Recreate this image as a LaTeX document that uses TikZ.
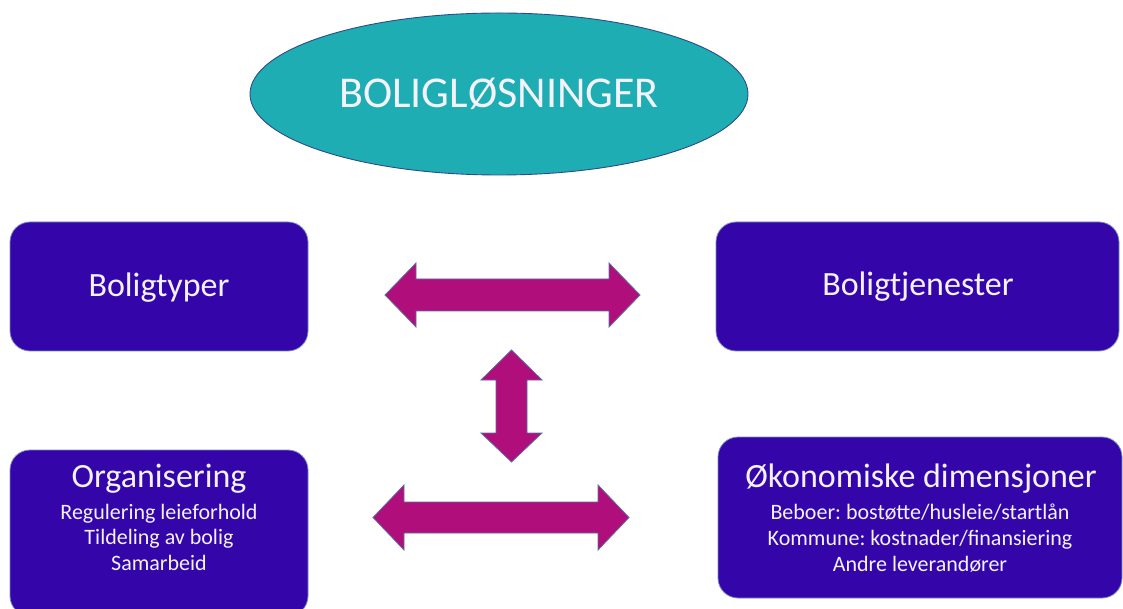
\documentclass[tikz,border=0pt]{standalone}
\usepackage{fontspec}
\setmainfont{Carlito}
\usetikzlibrary{shapes.geometric}
\definecolor{boxfill}{HTML}{3405A8}
\definecolor{boxline}{HTML}{7A8CC0}
\definecolor{ellfill}{HTML}{1DADB3}
\definecolor{ellline}{HTML}{2E4A8C}
\definecolor{arrfill}{HTML}{B00E7A}
\definecolor{arrline}{HTML}{5A6CA8}
\definecolor{txt}{HTML}{F4F2FF}
\frenchspacing
\begin{document}
\begin{tikzpicture}[x=1pt,y=1pt,
  blockbox/.style={draw=boxline, line width=0.8pt, fill=boxfill, rounded corners=20pt},
  titletxt/.style={text=txt, font=\fontsize{34}{38}\selectfont, anchor=base, inner sep=0pt},
  bodytxt/.style={text=txt, font=\fontsize{22}{26}\selectfont, anchor=base, inner sep=0pt},
  blockarrow/.style={draw=arrline, line width=0.8pt, fill=arrfill, line join=miter}]
\clip (0,0) rectangle (1123,608);
\useasboundingbox (0,0) rectangle (1123,608);

% ellipse
\node[ellipse, draw=ellline, line width=0.9pt, fill=ellfill, minimum width=498pt, minimum height=162pt, inner sep=0pt] (top) at (499,514) {};
\node[text=txt, font=\fontsize{44}{50}\selectfont, anchor=base, inner sep=0pt] (toptxt) at (499,500) {BOLIGLØSNINGER};

% boxes
\draw[blockbox] (10,257) rectangle (308,386);
\node[titletxt] (t1) at (159,311) {Boligtyper};

\draw[blockbox] (716,257) rectangle (1119,386);
\node[titletxt] (t2) at (918,312) {Boligtjenester};

\draw[blockbox] (10,-8) rectangle (308,158);
\node[titletxt] (t3) at (159,121) {Organisering};
\node[bodytxt] (t3a) at (159,89) {Regulering leieforhold};
\node[bodytxt] (t3b) at (159,63.5) {Tildeling av bolig};
\node[bodytxt] (t3c) at (159,38) {Samarbeid};

\draw[blockbox] (718,10) rectangle (1122,171);
\node[titletxt] (t4) at (921,121) {Økonomiske dimensjoner};
\node[bodytxt] (t4a) at (920,89) {Beboer: bostøtte/husleie/startlån};
\node[bodytxt] (t4b) at (920,63) {Kommune: kostnader/finansiering};
\node[bodytxt] (t4c) at (920,37) {Andre leverandører};

% upper horizontal arrow
\draw[blockarrow] (385,313) -- (416,345) -- (416,329) -- (609,329) -- (609,345) -- (640,313)
  -- (609,281) -- (609,297) -- (416,297) -- (416,281) -- cycle;

% vertical arrow
\draw[blockarrow] (511.5,258) -- (542,228) -- (527,228) -- (527,175) -- (542,175) -- (511.5,146)
  -- (481,175) -- (496,175) -- (496,228) -- (481,228) -- cycle;

% lower horizontal arrow
\draw[blockarrow] (373,90.5) -- (404,123) -- (404,106) -- (598,106) -- (598,123) -- (629,90.5)
  -- (598,58) -- (598,75) -- (404,75) -- (404,58) -- cycle;
\end{tikzpicture}
\end{document}
